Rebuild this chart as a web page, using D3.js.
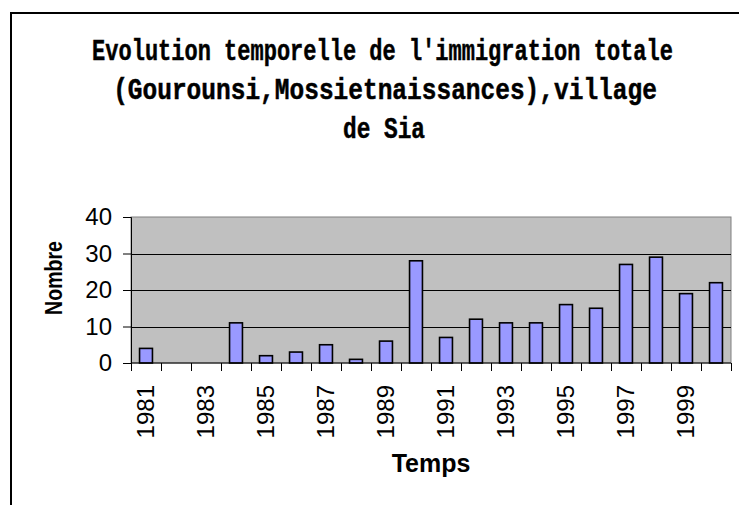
<!DOCTYPE html>
<meta charset="utf-8">
<style>
  body { margin: 0; background: #fff; }
  text { font-family: Arial, 'Liberation Sans', sans-serif; fill: #000; }
  .title { font-family: 'Liberation Mono', 'Courier New', monospace; font-weight: bold; }
</style>
<body>
<div id="chart"></div>
<script src="https://cdn.jsdelivr.net/npm/d3@7"></script>
<script>
// chart data
var years = ["1981","1982","1983","1984","1985","1986","1987","1988","1989","1990",
             "1991","1992","1993","1994","1995","1996","1997","1998","1999","2000"];
var counts = [4, 0, 0, 11, 2, 3, 5, 1, 6, 28, 7, 12, 11, 11, 16, 15, 27, 29, 19, 22];
var yTicks = [0, 10, 20, 30, 40];
var xLabels = ["1981","1983","1985","1987","1989","1991","1993","1995","1997","1999"];
var titleLines = ["Evolution temporelle de l'immigration totale",
                  "(Gourounsi,Mossietnaissances),village",
                  "de Sia"];

var width = 739, height = 505;
var plot = {left: 131, right: 731, top: 217, bottom: 363};

var svg = d3.select("#chart").append("svg")
    .attr("width", width)
    .attr("height", height);

// outer chart frame (runs off the right/bottom edge)
svg.append("rect")
    .attr("x", 11).attr("y", 13)
    .attr("width", 800).attr("height", 600)
    .attr("fill", "#fff")
    .attr("stroke", "#000")
    .attr("stroke-width", 2);

// title: each line squeezed horizontally to the reference width
var titleBox = [[92, 673, 60], [113, 657, 99], [343, 425, 138]];
svg.selectAll(".title")
    .data(titleLines)
  .enter().append("text")
    .attr("class", "title")
    .attr("font-size", 30)
    .attr("stroke", "#000")
    .attr("stroke-width", 0.5)
    .attr("text-anchor", "middle")
    .text(function(d) { return d; })
    .each(function(d, i) {
      var b = titleBox[i];
      var w = this.getComputedTextLength();
      var sx = (b[1] - b[0]) / w;
      d3.select(this).attr("transform",
        "translate(" + ((b[0] + b[1]) / 2) + "," + b[2] + ") scale(" + sx + ",1)");
    });

var x = d3.scaleBand()
    .domain(years)
    .range([plot.left, plot.right])
    .paddingInner(0.57)
    .paddingOuter(0.285);

var y = d3.scaleLinear()
    .domain([0, 40])
    .range([plot.bottom, plot.top]);

// plot area
svg.append("rect")
    .attr("x", plot.left).attr("y", plot.top)
    .attr("width", plot.right - plot.left)
    .attr("height", plot.bottom - plot.top)
    .attr("fill", "#c0c0c0")
    .attr("stroke", "#808080")
    .attr("stroke-width", 1);

// gridlines
svg.append("g")
  .selectAll("line")
    .data(yTicks.filter(function(d) { return d > 0 && d < 40; }))
  .enter().append("line")
    .attr("x1", plot.left).attr("x2", plot.right)
    .attr("y1", function(d) { return Math.round(y(d)) + 0.5; })
    .attr("y2", function(d) { return Math.round(y(d)) + 0.5; })
    .attr("stroke", "#000");

// bars
svg.append("g")
  .selectAll("rect")
    .data(counts)
  .enter().append("rect")
    .attr("x", function(d, i) { return x(years[i]); })
    .attr("y", function(d) { return y(d); })
    .attr("width", x.bandwidth())
    .attr("height", function(d) { return y(0) - y(d); })
    .attr("fill", "#9999ff")
    .attr("stroke", "#000")
    .attr("stroke-width", 1.6)
    .style("display", function(d) { return d > 0 ? null : "none"; });

// y axis
var yAxis = svg.append("g")
    .attr("transform", "translate(" + plot.left + ",0)")
    .call(d3.axisLeft(y).tickValues(yTicks).tickSize(8).tickPadding(11));
yAxis.select(".domain").attr("stroke", "#000");
yAxis.selectAll("text").attr("font-size", 24).attr("font-family", "Arial, 'Liberation Sans', sans-serif");

// x axis: ticks on category boundaries
var step = x.step();
var xAxis = svg.append("g")
    .attr("transform", "translate(0," + plot.bottom + ")");
xAxis.append("line")
    .attr("x1", plot.left).attr("x2", plot.right)
    .attr("stroke", "#000");
xAxis.selectAll(".tick")
    .data(d3.range(years.length + 1))
  .enter().append("line")
    .attr("x1", function(i) { return Math.round(plot.left + i * step) + 0.5; })
    .attr("x2", function(i) { return Math.round(plot.left + i * step) + 0.5; })
    .attr("y1", 0).attr("y2", 8)
    .attr("stroke", "#000");
xAxis.selectAll("text")
    .data(xLabels)
  .enter().append("text")
    .attr("transform", function(d) {
      return "translate(" + (x(d) + x.bandwidth() / 2 - 1) + ",22) rotate(-90)";
    })
    .attr("text-anchor", "end")
    .attr("dy", "0.36em")
    .attr("font-size", 24)
    .text(function(d) { return d; });

// axis titles
svg.append("text")
    .attr("transform", "translate(62,278) rotate(-90) scale(0.85,1)")
    .attr("text-anchor", "middle")
    .attr("font-weight", "bold")
    .attr("font-size", 23)
    .text("Nombre");

svg.append("text")
    .attr("x", 431)
    .attr("y", 472)
    .attr("text-anchor", "middle")
    .attr("font-weight", "bold")
    .attr("font-size", 25)
    .text("Temps");
</script>
</body>
